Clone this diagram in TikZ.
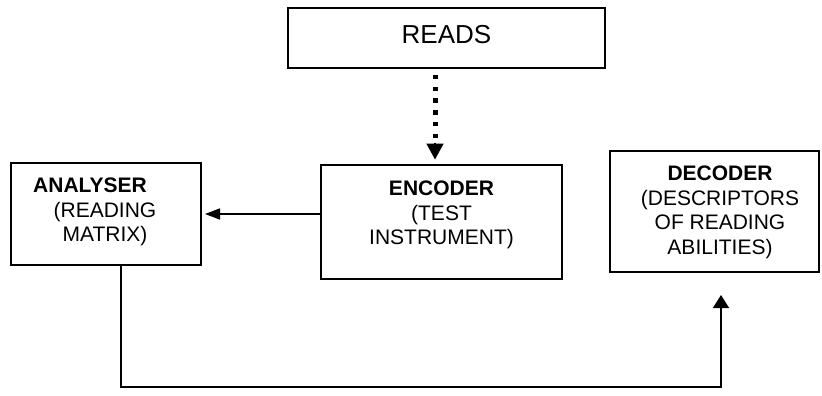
\documentclass[tikz,border=0pt]{standalone}
\usepackage{fontspec}
\setmainfont{Liberation Sans}
\usetikzlibrary{arrows.meta,calc}
\begin{document}
\begin{tikzpicture}[x=1pt,y=-1pt,
  box/.style={draw, line width=2pt, rectangle, inner sep=0pt},
  txt/.style={inner sep=0pt, align=center, font=\fontsize{21}{24.7}\selectfont},
  conn/.style={line width=1.6pt},
  tipA/.style={-{Triangle[length=15pt,width=11pt]}},
  tipB/.style={-{Triangle[length=13pt,width=16pt]}},
  tipC/.style={-{Triangle[length=16pt,width=17pt]}},
  dotline/.style={line width=5pt, dash pattern=on 4.5pt off 7.2pt}]
\useasboundingbox (0,0) rectangle (822,396);
% boxes
\node[box, minimum width=317pt, minimum height=60pt] (reads) at (446.5,38) {};
\node[box, minimum width=241pt, minimum height=114pt] (enc) at (441.5,222) {};
\node[box, minimum width=190pt, minimum height=102pt] (an) at (106,214) {};
\node[box, minimum width=209pt, minimum height=121pt] (dec) at (714.5,211.5) {};
% texts
\node[txt, font=\fontsize{26}{30}\selectfont, anchor=base] (readst) at (446.5,44) {READS};
\node[txt, anchor=north] (ant) at (105,177.5) {\textbf{ANALYSER}\hspace*{30pt}\\(READING\\MATRIX)};
\node[txt, anchor=north] (enct) at (441.5,180.5) {\textbf{ENCODER}\\(TEST\\INSTRUMENT)};
\node[txt, anchor=north] (dect) at (720,165.5) {\textbf{DECODER}\\(DESCRIPTORS\\OF READING\\ABILITIES)};
% dotted arrow reads -> encoder
\coordinate (dtop) at ($(reads.south)+(-11.5,6)$);
\coordinate (dmid) at ($(reads.south)+(-11.5,71)$);
\coordinate (dtip) at ($(enc.north)+(-6.5,-4.5)$);
\draw[dotline] (dtop) -- (dmid);
\draw[conn, tipC] ($(dtip)+(0,-17)$) -- (dtip);
% encoder -> analyser
\draw[conn, tipA, shorten >=3pt] (an.east -| enc.west) -- (an.east);
% analyser -> decoder
\coordinate (decin) at ($(dec.south)+(6.5,22)$);
\coordinate (bot) at (0,387);
\draw[conn, tipB] ([xshift=15pt]an.south) |- (bot -| decin) -- (decin);
\end{tikzpicture}
\end{document}
